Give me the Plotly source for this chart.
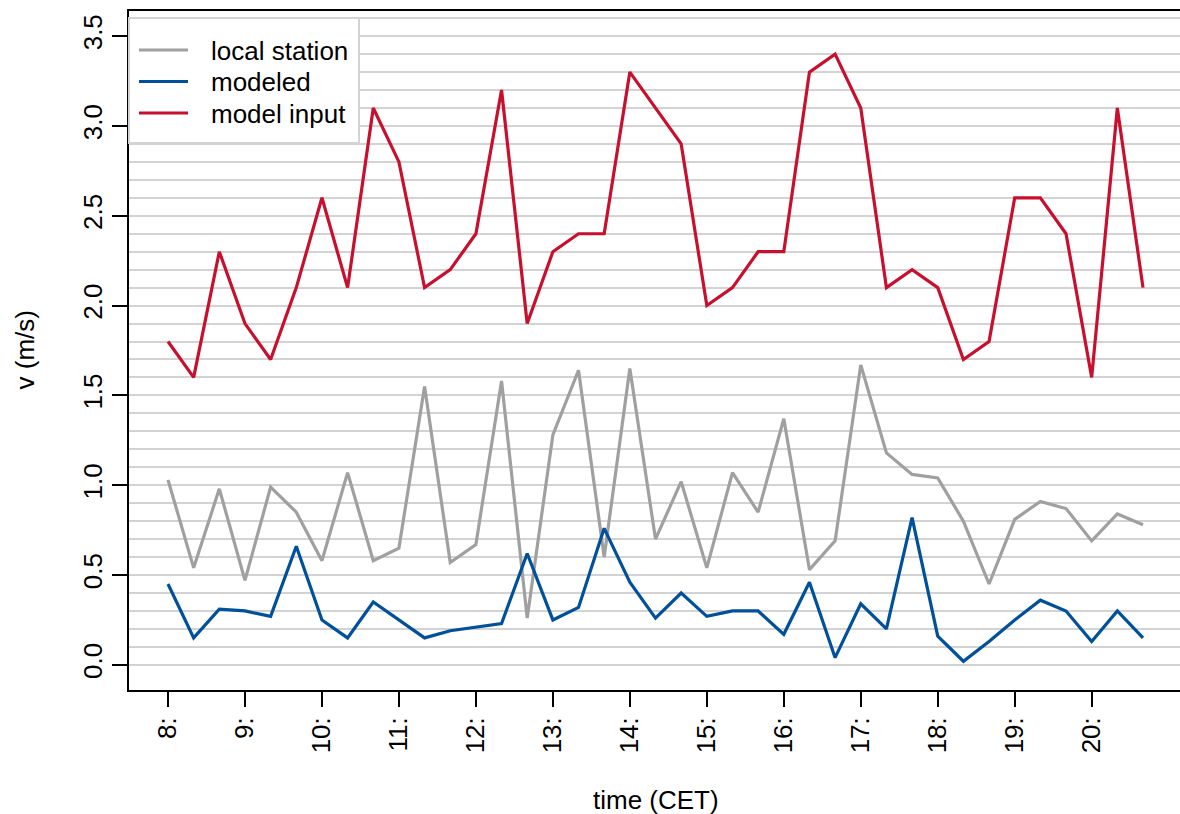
import pandas as pd
import plotly.graph_objects as go

# 20-minute time steps, 08:00 to 20:40 CET
times = pd.date_range("2000-01-01 08:00", periods=39, freq="20min")

local_station = [1.03, 0.54, 0.98, 0.47, 0.99, 0.85, 0.58, 1.07, 0.58, 0.65,
                 1.55, 0.57, 0.67, 1.58, 0.26, 1.28, 1.64, 0.60, 1.65, 0.70,
                 1.02, 0.54, 1.07, 0.85, 1.37, 0.53, 0.69, 1.67, 1.18, 1.06,
                 1.04, 0.80, 0.45, 0.81, 0.91, 0.87, 0.69, 0.84, 0.78]

modeled = [0.45, 0.15, 0.31, 0.30, 0.27, 0.66, 0.25, 0.15, 0.35, 0.25,
           0.15, 0.19, 0.21, 0.23, 0.62, 0.25, 0.32, 0.76, 0.46, 0.26,
           0.40, 0.27, 0.30, 0.30, 0.17, 0.46, 0.04, 0.34, 0.20, 0.82,
           0.16, 0.02, 0.13, 0.25, 0.36, 0.30, 0.13, 0.30, 0.15]

model_input = [1.8, 1.6, 2.3, 1.9, 1.7, 2.1, 2.6, 2.1, 3.1, 2.8,
               2.1, 2.2, 2.4, 3.2, 1.9, 2.3, 2.4, 2.4, 3.3, 3.1,
               2.9, 2.0, 2.1, 2.3, 2.3, 3.3, 3.4, 3.1, 2.1, 2.2,
               2.1, 1.7, 1.8, 2.6, 2.6, 2.4, 1.6, 3.1, 2.1]

series = [
    ("local station", local_station, "#a0a0a0"),
    ("modeled", modeled, "#00509b"),
    ("model input", model_input, "#c8102e"),
]

hour_ticks = pd.date_range("2000-01-01 08:00", "2000-01-01 20:00", freq="1h")
hour_labels = [f"{t.hour}:" for t in hour_ticks]

FONT = "Liberation Sans, Arial, Helvetica, sans-serif"
FS = 26
LW = 3.2
W, H = 1180, 814
ML, MR, MT, MB = 129, 0, 11, 124
PW, PH = W - ML - MR, H - MT - MB


def px_x(X):
    """Pixel column -> paper x."""
    return (X - ML) / PW


def px_y(Y):
    """Pixel row -> paper y."""
    return (H - MB - Y) / PH


fig = go.Figure()
for name, vals, color in series:
    fig.add_trace(go.Scatter(
        x=times, y=vals, name=name, mode="lines",
        line=dict(color=color, width=LW), showlegend=False,
    ))

# x range padded 4% on each side of the data span; the right side runs past the canvas
span = times[-1] - times[0]
x_lo = times[0] - 0.04 * span
x_hi = x_lo + (1.08 * span) * (1051 / 1053)

grid_vals = [round(0.1 * i, 1) for i in range(37)]

# legend box in the top-left corner of the plot
shapes = [dict(type="rect", xref="paper", yref="paper",
               x0=px_x(129), x1=px_x(359), y0=px_y(143), y1=px_y(18),
               fillcolor="white", line=dict(color="#d3d3d3", width=2), layer="above")]
annotations = []
row_y = [50, 81.5, 113]
for (name, _, color), ry in zip(series, row_y):
    shapes.append(dict(type="line", xref="paper", yref="paper",
                       x0=px_x(139), x1=px_x(188), y0=px_y(ry), y1=px_y(ry),
                       line=dict(color=color, width=LW), layer="above"))
    annotations.append(dict(text=name, xref="paper", yref="paper",
                            x=px_x(209), y=px_y(ry + 1), xanchor="left", yanchor="middle",
                            showarrow=False,
                            font=dict(family=FONT, size=FS, color="black")))

annotations += [
    dict(text="time (CET)", xref="paper", yref="paper", x=0.5, y=0,
         xanchor="center", yanchor="middle", yshift=-110, xshift=1,
         showarrow=False, font=dict(family=FONT, size=FS, color="black")),
    dict(text="v (m/s)", xref="paper", yref="paper", x=0, y=0.5,
         xanchor="center", yanchor="middle", xshift=-105, textangle=-90,
         showarrow=False, font=dict(family=FONT, size=FS, color="black")),
]

fig.update_layout(
    width=W, height=H,
    margin=dict(l=ML, r=MR, t=MT, b=MB, autoexpand=False),
    paper_bgcolor="white", plot_bgcolor="white",
    font=dict(family=FONT, size=FS, color="black"),
    showlegend=False,
    xaxis=dict(
        type="date", range=[x_lo, x_hi],
        tickmode="array", tickvals=hour_ticks, ticktext=hour_labels,
        tickangle=-90, ticks="outside", ticklen=15, tickwidth=1.6, tickcolor="black",
        showline=True, mirror=True, linecolor="black", linewidth=1.6,
        showgrid=False, zeroline=False,
        tickfont=dict(family=FONT, size=FS, color="black"),
    ),
    yaxis=dict(
        range=[-0.14, 3.64],
        tickmode="array", tickvals=[0, 0.5, 1, 1.5, 2, 2.5, 3, 3.5],
        ticktext=["0.0", "0.5", "1.0", "1.5", "2.0", "2.5", "3.0", "3.5"],
        tickangle=-90, ticks="outside", ticklen=15, tickwidth=1.6, tickcolor="black",
        showline=True, mirror=False, linecolor="black", linewidth=1.6,
        showgrid=True, gridcolor="#d3d3d3", gridwidth=1.6, zeroline=False,
        minor=dict(tickmode="array", tickvals=grid_vals, showgrid=True,
                   gridcolor="#d3d3d3", gridwidth=1.6, ticks=""),
        tickfont=dict(family=FONT, size=FS, color="black"),
    ),
    shapes=shapes,
    annotations=annotations,
)

fig.write_html("out.html")
